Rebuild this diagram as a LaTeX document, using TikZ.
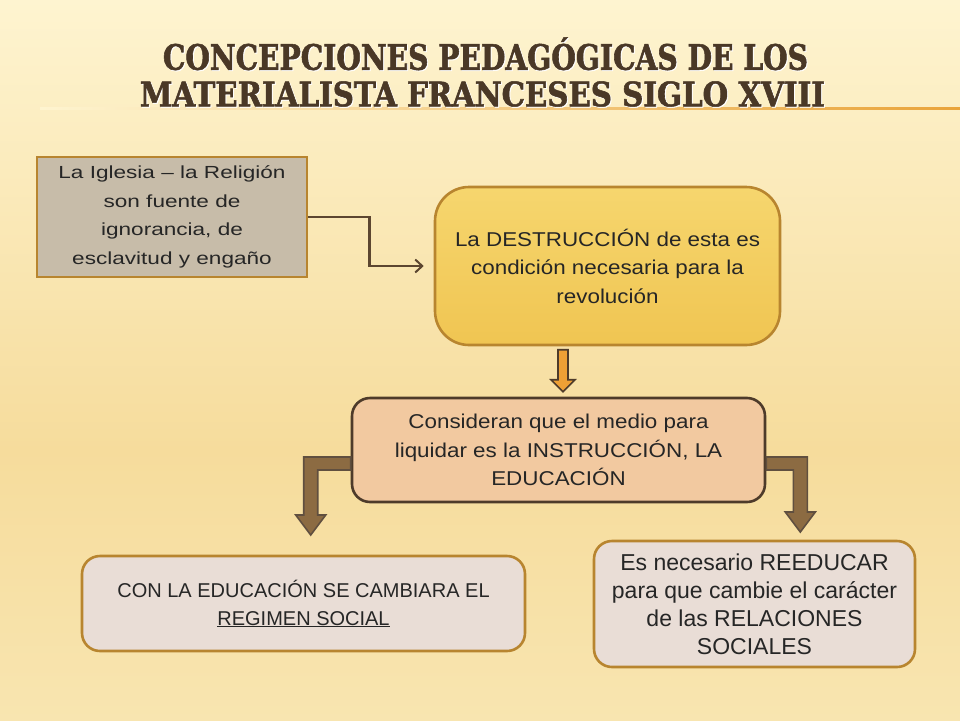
\documentclass[tikz,border=0pt]{standalone}
\usepackage{fontspec}
\usetikzlibrary{arrows.meta,calc}
\setmainfont{Liberation Sans}
\newfontfamily\widefont[FakeStretch=1.29]{Liberation Sans}
\newfontfamily\mediumfont[FakeStretch=1.12]{Liberation Sans}
\newfontfamily\titlefont[FakeStretch=0.75,FakeBold=1.5]{DejaVu Serif}

\definecolor{bgtop}{HTML}{FEF4D0}
\definecolor{bgmid}{HTML}{F6DC9C}
\definecolor{bgbot}{HTML}{F8E5B0}
\definecolor{titlebrown}{HTML}{4A3826}
\definecolor{rulegold}{HTML}{E9A43A}
\definecolor{goldline}{HTML}{B8852F}
\definecolor{darkline}{HTML}{4E3B2A}
\definecolor{greyfill}{HTML}{C7BCA9}
\definecolor{yellowtop}{HTML}{F6D66E}
\definecolor{yellowbot}{HTML}{F0C552}
\definecolor{peachfill}{HTML}{F2C9A0}
\definecolor{palefill}{HTML}{E9DDD6}
\definecolor{orangearrow}{HTML}{EEA035}
\definecolor{brownarrow}{HTML}{8C6B42}
\definecolor{linkbrown}{HTML}{5C4630}

\tikzset{
  box/.style={draw, line width=2.6pt, align=center, inner sep=0pt, text=black!85},
  titletext/.style={text=titlebrown, font=\titlefont\bfseries\fontsize{32}{36}\selectfont, inner sep=0pt},
  link/.style={draw=linkbrown, line width=2.4pt, -{Straight Barb[length=7pt,width=13pt,line width=2pt]}},
  smallarrow/.style={fill=orangearrow, draw=darkline, line width=1.6pt, line join=miter},
  bigarrow/.style={fill=brownarrow, draw=darkline!90, line width=1.6pt, line join=miter}
}

\begin{document}
\begin{tikzpicture}[x=1pt,y=-1pt]

  % background
  \useasboundingbox (0,0) rectangle (960,720);
  \shade [top color=bgtop, bottom color=bgmid] (0,0) rectangle (960,450);
  \shade [top color=bgmid, bottom color=bgbot] (0,450) rectangle (960,720);
  \shade [left color=bgtop, right color=rulegold] (40,107.5) rectangle (960,109);

  % title
  \node [titletext, text=white] at (486.5,58) {\resizebox{645pt}{26pt}{CONCEPCIONES PEDAG\smash{Ó}GICAS DE LOS}};
  \node [titletext] (title1) at (485.5,57) {\resizebox{645pt}{26pt}{CONCEPCIONES PEDAG\smash{Ó}GICAS DE LOS}};
  \node [titletext, text=white] at (483.5,95) {\resizebox{685pt}{25pt}{MATERIALISTA FRANCESES SIGLO XVIII}};
  \node [titletext] (title2) at (482.5,94) {\resizebox{685pt}{25pt}{MATERIALISTA FRANCESES SIGLO XVIII}};

  % boxes
  \node [box, draw=goldline, fill=greyfill, minimum width=270, minimum height=120,
         font=\widefont\fontsize{17.5}{28.5}\selectfont] (iglesia) at (172,217)
        {La Iglesia – la Religión\\son fuente de\\ignorancia, de\\esclavitud y engaño};
  \node [box, draw=goldline, top color=yellowtop, bottom color=yellowbot, rounded corners=34,
         minimum width=345, minimum height=158,
         font=\mediumfont\fontsize{20}{28.5}\selectfont] (destruccion) at (607.5,266)
        {La DESTRUCCIÓN de esta es\\condición necesaria para la\\revolución};
  \node [box, draw=darkline, fill=peachfill, rounded corners=18, minimum width=413, minimum height=104,
         font=\mediumfont\fontsize{20}{28.5}\selectfont] (medio) at (558.5,450)
        {Consideran que el medio para\\liquidar es la INSTRUCCIÓN, LA\\EDUCACIÓN};
  \node [box, draw=goldline, fill=palefill, rounded corners=18, minimum width=443, minimum height=95,
         font=\fontsize{20}{28}\selectfont] (regimen) at (303.5,603.5)
        {CON LA EDUCACIÓN SE CAMBIARA EL\\\underline{REGIMEN SOCIAL}};
  \node [box, draw=goldline, fill=palefill, rounded corners=18, minimum width=321, minimum height=126,
         font=\fontsize{23}{28}\selectfont] (reeducar) at (754.5,604)
        {Es necesario REEDUCAR\\para que cambie el carácter\\de las RELACIONES\\SOCIALES};

  % connectors
  \draw [link] (iglesia.east) -- ++(61,0) |- ([xshift=-10pt]destruccion.west);
  \filldraw [smallarrow] ($(medio.north)+(4.5,-5)$) --++(-12,-12) --++(7,0) --++(0,-30)
        --++(10,0) --++(0,30) --++(7,0) --cycle;
  \filldraw [bigarrow] ($(medio.west)+(0,7)$) --++(-47,0) --++(0,58) --++(-8,0) --++(15,20)
        --++(15,-20) --++(-8,0) --++(0,-45) --++(33,0) --cycle;
  \filldraw [bigarrow] ($(medio.east)+(0,7)$) --++(41,0) --++(0,55) --++(8,0) --++(-15,20)
        --++(-15,-20) --++(8,0) --++(0,-42) --++(-27,0) --cycle;

\end{tikzpicture}
\end{document}
